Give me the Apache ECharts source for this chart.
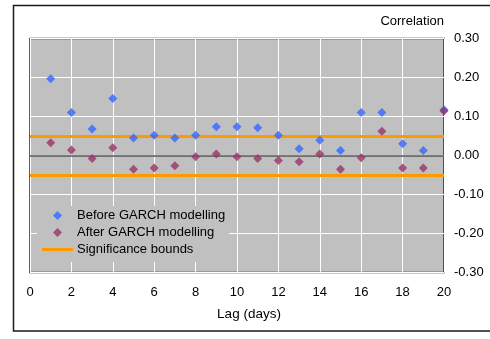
<!DOCTYPE html>
<html>
<head>
<meta charset="utf-8">
<script src="https://cdn.jsdelivr.net/npm/echarts@6/dist/echarts.min.js"></script>
<style>
html,body{margin:0;padding:0;background:#fff;}
#chart{width:490px;height:339px;}
</style>
</head>
<body>
<div id="chart"></div>
<script>
var lags = [1,2,3,4,5,6,7,8,9,10,11,12,13,14,15,16,17,18,19,20];
var beforeGarch = [0.197,0.110,0.068,0.146,0.045,0.052,0.045,0.052,0.074,0.074,0.071,0.052,0.017,0.039,0.013,0.110,0.110,0.030,0.013,0.117];
var afterGarch = [0.033,0.014,-0.008,0.020,-0.035,-0.032,-0.026,-0.003,0.004,-0.003,-0.008,-0.013,-0.016,0.004,-0.035,-0.006,0.062,-0.032,-0.032,0.114];
var significanceBound = 0.052;
var xTicks = [0,2,4,6,8,10,12,14,16,18,20];

var FONT = '"Liberation Sans", Arial, sans-serif';
var chart = echarts.init(document.getElementById('chart'), null, {renderer:'canvas'});

function pairs(vals){ return lags.map(function(l,i){ return [l, vals[i]]; }); }

var diamond = 'path://M0,-1L1,0L0,1L-1,0Z';

chart.setOption({
  animation: false,
  backgroundColor: '#ffffff',
  textStyle: {fontFamily: FONT},
  title: {
    text: 'Correlation',
    right: 46, top: 15,
    padding: 0,
    textStyle: {fontSize: 13, fontWeight: 'normal', color: '#000', fontFamily: FONT}
  },
  graphic: [{
    type: 'rect', silent: true, z: 100,
    shape: {x: 13.5, y: 5.5, width: 500, height: 325.5},
    style: {fill: 'none', stroke: '#1a1a1a', lineWidth: 1.5}
  }],
  grid: {
    left: 30, top: 38.5, width: 414, height: 234,
    show: true, backgroundColor: '#c0c0c0', borderColor: '#2a2a2a', borderWidth: 1.5
  },
  legend: {
    orient: 'vertical',
    left: 37, top: 206,
    padding: [3, 4, 6, 5],
    itemGap: 4,
    itemWidth: 31, itemHeight: 9,
    backgroundColor: '#c0c0c0',
    textStyle: {fontSize: 13, color: '#000', fontFamily: FONT, padding: [0,0,0,-1]},
    data: [
      {name: 'Before GARCH modelling', icon: diamond},
      {name: 'After GARCH modelling', icon: diamond},
      {name: 'Significance bounds', icon: 'path://M0,0L31,0L31,3L0,3Z'}
    ]
  },
  xAxis: {
    type: 'value', min: 0, max: 20, interval: 2,
    name: 'Lag (days)', nameLocation: 'middle', nameGap: 35,
    nameTextStyle: {fontSize: 13.5, color: '#000', fontFamily: FONT, padding: [0,0,0,24]},
    axisLine: {show: false}, axisTick: {show: false},
    axisLabel: {fontSize: 13, color: '#000', margin: 13, fontFamily: FONT,
      formatter: function(v){ return xTicks.indexOf(v) >= 0 ? String(v) : ''; }},
    splitLine: {show: true, lineStyle: {color: '#ffffff', width: 1}}
  },
  yAxis: {
    type: 'value', position: 'right', min: -0.3, max: 0.3, interval: 0.1,
    axisLine: {show: false}, axisTick: {show: false},
    axisLabel: {fontSize: 13, color: '#000', margin: 10, fontFamily: FONT,
      formatter: function(v){ var r = Math.round(v*100)/100; return (r === 0 ? 0 : r).toFixed(2); }},
    splitLine: {show: true, lineStyle: {color: '#ffffff', width: 1}}
  },
  series: [
    {
      name: 'Significance bounds', type: 'line', data: [], z: 1,
      color: '#ff9900',
      lineStyle: {color: '#ff9900', width: 3},
      markLine: {
        silent: true, symbol: 'none', z: 1,
        label: {show: false},
        data: [
          {yAxis: 0, lineStyle: {color: '#555555', width: 1.5, type: 'solid'}},
          {yAxis: significanceBound, lineStyle: {color: '#ff9900', width: 3, type: 'solid'}},
          {yAxis: -significanceBound, lineStyle: {color: '#ff9900', width: 3, type: 'solid'}}
        ]
      }
    },
    {
      name: 'Before GARCH modelling', type: 'scatter', z: 3, clip: false,
      symbol: diamond, symbolSize: 9,
      itemStyle: {color: '#3366ff'},
      data: pairs(beforeGarch)
    },
    {
      name: 'After GARCH modelling', type: 'scatter', z: 4, clip: false,
      symbol: diamond, symbolSize: 9,
      itemStyle: {color: '#993366'},
      data: pairs(afterGarch)
    }
  ]
});
</script>
</body>
</html>
